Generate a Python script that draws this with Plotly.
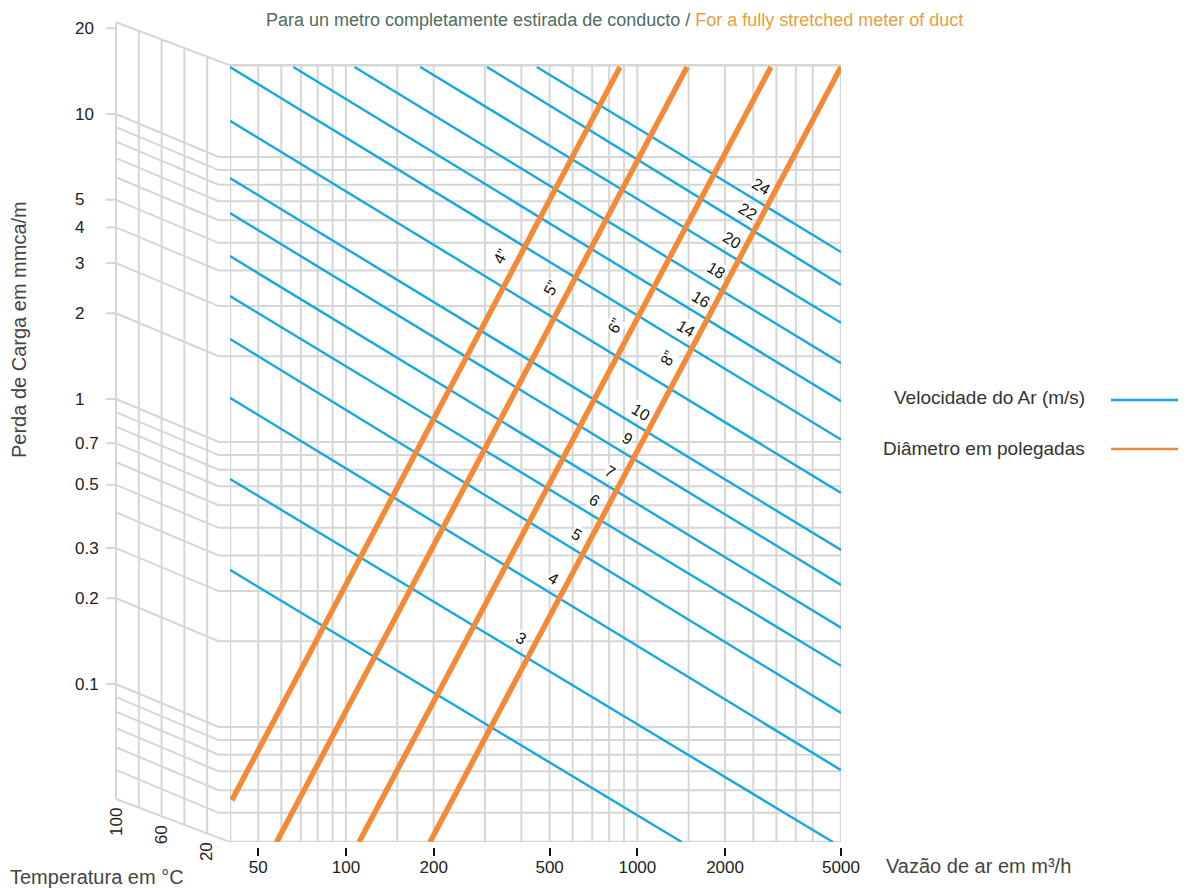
import numpy as np
import plotly.graph_objects as go

# page body has an 8px margin: the figure is sized to fit the 1186x888 window
OFF = 8
W, H = 1186 - OFF, 888 - OFF

# ---------------- data ----------------
flow_ticks = [50, 100, 200, 500, 1000, 2000, 5000]
flow_grid = [50, 60, 70, 80, 90, 100, 150, 200, 300, 400, 500, 600, 700, 800, 900,
             1000, 1500, 2000, 2500, 3000, 3500, 4000]
flow_min, flow_max = 40, 5000
loss_min, loss_max = 0.0395, 21.0
loss_grid = [0.05, 0.06, 0.07, 0.08, 0.09, 0.1, 0.2, 0.3, 0.4, 0.5, 0.6, 0.7, 0.8, 0.9,
             1, 2, 3, 4, 5, 6, 7, 8, 9, 10]
loss_labels = [20, 10, 5, 4, 3, 2, 1, 0.7, 0.5, 0.3, 0.2, 0.1]
temp_grid = [100, 80, 60, 40, 20]
temp_labels = [100, 60, 20]

vel_values = [2, 3, 4, 5, 6, 7, 9, 10, 12, 14, 16, 18, 20, 22, 24]
vel_shown = [False, True, True, True, True, True, True, True, False, True, True, True, True, True, True]
vel_q_start = [40, 40, 40, 40, 40, 40, 40, 40, 40, 40, 66, 107, 180, 305, 452]
vel_p_start = [0.356, 0.742, 1.43, 2.30, 3.25, 4.49, 6.36, 8.44, 13.4, 20.7, 20.7, 20.7, 20.7, 20.7, 20.7]
vel_q_end = [1420, 4690, 5000, 5000, 5000, 5000, 5000, 5000, 5000, 5000, 5000, 5000, 5000, 5000, 5000]
vel_p_end = [0.0395, 0.0395, 0.0706, 0.112, 0.164, 0.223, 0.315, 0.418, 0.663, 1.02, 1.39, 1.89, 2.62, 3.56, 4.64]

dia_names = ['4”', '5”', '6”', '8”']
dia_q_start = [40.6, 57.8, 110.9, 194.3]
dia_p_start = [0.0554, 0.0395, 0.0395, 0.0395]
dia_q_end = [872, 1481, 2875, 5000]
dia_p_end = [20.7, 20.7, 20.7, 20.7]

# ---------------- style / geometry ----------------
BLUE = '#17a7e1'
ORANGE = '#f28a38'
GRID = '#d6d6d6'
TXT = '#222222'
FONT = 'Liberation Sans, Arial, sans-serif'
PX_PER_DEC = 285.0
DEPTH = 10 ** (43 / PX_PER_DEC)   # perspective shift of the back plane


def px(x):
    return (x - OFF) / W


def py(y):
    return 1 - (y - OFF) / H


y_lo = np.log10(loss_min)
y_hi = y_lo + (842 - 20) / PX_PER_DEC

fig = go.Figure()

# main grid
vx, vy = [], []
for q in flow_grid:
    vx += [q, q, None]
    vy += [loss_min, loss_max, None]
hx, hy = [], []
for p in loss_grid:
    hx += [flow_min, flow_max, None]
    hy += [p, p, None]
fig.add_trace(go.Scatter(x=vx, y=vy, mode='lines', line=dict(color=GRID, width=2),
                         hoverinfo='skip', showlegend=False))
fig.add_trace(go.Scatter(x=hx, y=hy, mode='lines', line=dict(color=GRID, width=2),
                         hoverinfo='skip', showlegend=False))
fig.add_trace(go.Scatter(x=[flow_min, flow_max, flow_max, flow_min, flow_min],
                         y=[loss_min, loss_min, loss_max, loss_max, loss_min],
                         mode='lines', line=dict(color=GRID, width=2.5),
                         hoverinfo='skip', showlegend=False))

# perspective (temperature) panel
sx, sy = [], []
for p in loss_grid:
    sx += [100, 10, 0, None]
    sy += [p * DEPTH, p, p, None]
for p in (loss_min, loss_max):
    sx += [100, 0, None]
    sy += [p * DEPTH, p, None]
for t in temp_grid:
    f = DEPTH ** (t / 100)
    sx += [t, t, None]
    sy += [loss_min * f, loss_max * f, None]
for v in loss_labels:
    sx += [109, 100, None]
    sy += [v * DEPTH, v * DEPTH, None]
fig.add_trace(go.Scatter(x=sx, y=sy, xaxis='x2', yaxis='y', mode='lines',
                         line=dict(color=GRID, width=2), hoverinfo='skip', showlegend=False))

# velocity lines
for i, v in enumerate(vel_values):
    fig.add_trace(go.Scatter(x=[vel_q_start[i], vel_q_end[i]], y=[vel_p_start[i], vel_p_end[i]],
                             mode='lines', line=dict(color=BLUE, width=2.4),
                             name=f'{v} m/s', showlegend=False))
# diameter lines
for i, d in enumerate(dia_names):
    fig.add_trace(go.Scatter(x=[dia_q_start[i], dia_q_end[i]], y=[dia_p_start[i], dia_p_end[i]],
                             mode='lines', line=dict(color=ORANGE, width=5.5),
                             name=d, showlegend=False))


def lg(a):
    return np.log10(a)


def intersect(a0, a1, b0, b1):
    (x1, y1), (x2, y2) = a0, a1
    (x3, y3), (x4, y4) = b0, b1
    den = (x1 - x2) * (y3 - y4) - (y1 - y2) * (x3 - x4)
    t = ((x1 - x3) * (y3 - y4) - (y1 - y3) * (x3 - x4)) / den
    return x1 + t * (x2 - x1), y1 + t * (y2 - y1)


def vel_seg(i):
    return ((lg(vel_q_start[i]), lg(vel_p_start[i])), (lg(vel_q_end[i]), lg(vel_p_end[i])))


def dia_seg(i):
    return ((lg(dia_q_start[i]), lg(dia_p_start[i])), (lg(dia_q_end[i]), lg(dia_p_end[i])))


ann = []
# velocity labels along the largest diameter line
for i, v in enumerate(vel_values):
    if not vel_shown[i]:
        continue
    ix, iy = intersect(*vel_seg(i), *dia_seg(len(dia_names) - 1))
    ann.append(dict(x=ix, y=iy, xref='x', yref='y', text=str(v), showarrow=False,
                    xshift=-6, yshift=20, textangle=31, bgcolor='white', borderpad=0,
                    font=dict(size=16, color='#111', family=FONT)))
# diameter labels
ref = vel_values.index(14)
for i, d in enumerate(dia_names):
    ix, iy = intersect(*vel_seg(ref), *dia_seg(i))
    ann.append(dict(x=ix, y=iy, xref='x', yref='y', text=d, showarrow=False,
                    xshift=-24, yshift=-10, textangle=-62, bgcolor='white', borderpad=0,
                    font=dict(size=16, color='#111', family=FONT)))
# back-plane loss labels
for v in loss_labels:
    ann.append(dict(x=px(73), y=lg(v * DEPTH), xref='paper', yref='y', text=f'{v:g}',
                    showarrow=False, xanchor='left', yanchor='middle',
                    font=dict(size=17, color=TXT, family=FONT)))
# temperature labels
for t in temp_labels:
    ann.append(dict(x=t, y=lg(loss_min * DEPTH ** (t / 100)), xref='x2', yref='y',
                    text=str(t), showarrow=False, textangle=-90, xanchor='center',
                    yanchor='top', yshift=-7, font=dict(size=17, color=TXT, family=FONT)))
# titles
ann.append(dict(x=px(614), y=1, xref='paper', yref='paper', showarrow=False,
                xanchor='center', yanchor='top',
                text="<span style='color:#4f6b5f'>Para un metro completamente estirada de conducto / </span>"
                     "<span style='color:#e3a13d'>For a fully stretched meter of duct</span>",
                font=dict(size=18, family=FONT)))
ann.append(dict(x=px(19), y=py(330), xref='paper', yref='paper', showarrow=False,
                xanchor='center', yanchor='middle',
                text='Perda de Carga em mmca/m', textangle=-90,
                font=dict(size=20, color='#444', family=FONT)))
ann.append(dict(x=px(8), y=py(877), xref='paper', yref='paper', showarrow=False,
                xanchor='left', yanchor='middle',
                text='Temperatura em °C', font=dict(size=20, color='#444', family=FONT)))
ann.append(dict(x=px(884), y=py(866), xref='paper', yref='paper', showarrow=False,
                xanchor='left', yanchor='middle',
                text='Vazão de ar em m³/h', font=dict(size=20, color='#444', family=FONT)))
# legend
ann.append(dict(x=px(1087), y=py(398), xref='paper', yref='paper', showarrow=False,
                xanchor='right', yanchor='middle',
                text='Velocidade do Ar (m/s)', font=dict(size=19, color='#333', family=FONT)))
ann.append(dict(x=px(1087), y=py(448), xref='paper', yref='paper', showarrow=False,
                xanchor='right', yanchor='middle',
                text='Diâmetro em polegadas', font=dict(size=19, color='#333', family=FONT)))
shapes = [
    dict(type='line', xref='paper', yref='paper', x0=px(1111), x1=1, y0=py(400), y1=py(400),
         line=dict(color=BLUE, width=2.5)),
    dict(type='line', xref='paper', yref='paper', x0=px(1111), x1=1, y0=py(449), y1=py(449),
         line=dict(color=ORANGE, width=2.5)),
]

fig.update_layout(
    width=W, height=H,
    margin=dict(l=0, r=0, t=0, b=0),
    paper_bgcolor='white', plot_bgcolor='white',
    showlegend=False,
    annotations=ann, shapes=shapes,
    xaxis=dict(type='log', range=[lg(flow_min), lg(flow_max)], domain=[px(230), px(841)],
               tickvals=flow_ticks, ticktext=[str(t) for t in flow_ticks],
               ticks='outside', ticklen=8, tickwidth=2, tickcolor='#111',
               ticklabelstandoff=-3,
               showgrid=False, showline=False, zeroline=False,
               anchor='free', position=py(847), automargin=False,
               tickfont=dict(size=17, color=TXT, family=FONT)),
    yaxis=dict(type='log', range=[y_lo, y_hi], domain=[py(842), py(20)], visible=False,
               anchor='x'),
    xaxis2=dict(range=[114, 0], domain=[px(100), px(230)], visible=False, anchor='y'),
)

fig.write_html('out.html')
